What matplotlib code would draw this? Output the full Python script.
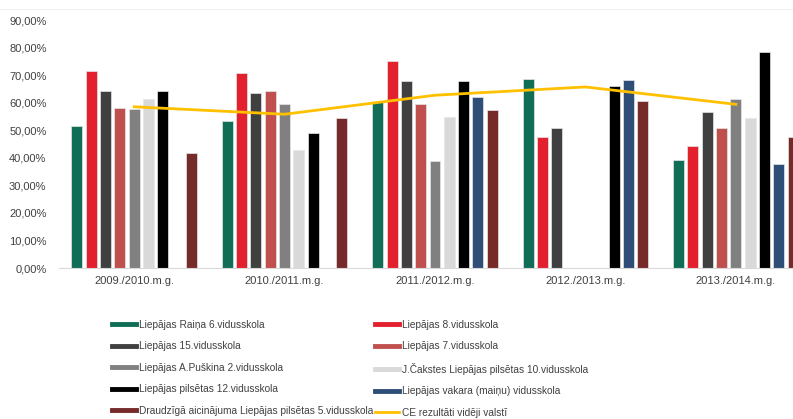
import numpy as np
import matplotlib
matplotlib.use('Agg')
import matplotlib.pyplot as plt
from matplotlib.lines import Line2D
from matplotlib.ticker import FuncFormatter

plt.rcParams['font.family'] = ['Liberation Sans', 'DejaVu Sans']

nan = np.nan
gadi = ['2009./2010.m.g.', '2010./2011.m.g.', '2011./2012.m.g.', '2012./2013.m.g.', '2013./2014.m.g.']

skolas = ['Liepājas Raiņa 6.vidusskola',
          'Liepājas 8.vidusskola',
          'Liepājas 15.vidusskola',
          'Liepājas 7.vidusskola',
          'Liepājas A.Puškina 2.vidusskola',
          'J.Čakstes Liepājas pilsētas 10.vidusskola',
          'Liepājas pilsētas 12.vidusskola',
          'Liepājas vakara (maiņu) vidusskola',
          'Draudzīgā aicinājuma Liepājas pilsētas 5.vidusskola']

raina6 = [51.6, 53.3, 60.3, 68.6, 39.2]
liep8 = [71.6, 70.6, 75.0, 47.7, 44.1]
liep15 = [64.2, 63.6, 68.0, 50.9, 56.6]
liep7 = [57.9, 64.4, 59.4, nan, 50.9]
puskina2 = [57.7, 59.6, 39.0, nan, 61.3]
cakstes10 = [61.2, 43.0, 54.9, nan, 54.6]
pils12 = [64.2, 49.1, 68.0, 66.1, 78.3]
vakara = [nan, nan, 62.1, 68.2, 37.9]
draudz5 = [41.6, 54.6, 57.2, 60.7, 47.5]

ce_videji = [58.5, 55.8, 62.7, 65.7, 59.4]

krasas = ['#0F6E55', '#E3202E', '#404040', '#C0504D', '#808080',
          '#D9D9D9', '#000000', '#2E4E78', '#762A2A']

dati = [raina6, liep8, liep15, liep7, puskina2, cakstes10, pils12, vakara, draudz5]

fig = plt.figure(figsize=(7.93, 4.19), dpi=100)
ax = fig.add_axes([59/793, (419-268)/419, 752/793, (268-20)/419])

x = np.arange(len(gadi))
solis = 0.0951
platums = 0.0731
for i, (vert, kr) in enumerate(zip(dati, krasas)):
    ax.bar(x + (i - 4) * solis, np.array(vert) / 100, width=platums, color=kr,
           edgecolor='#E6E6E6', linewidth=0.5, zorder=2)

ax.plot(x, np.array(ce_videji) / 100, color='#FFC000', linewidth=2.0, zorder=3)

ax.set_xlim(-0.5, len(gadi) - 0.5)
ax.set_ylim(0, 0.9)
ax.set_yticks(np.arange(0, 0.91, 0.1))
ax.yaxis.set_major_formatter(FuncFormatter(lambda v, p: ('%.2f%%' % (v * 100)).replace('.', ',')))
ax.set_xticks(x)
ax.set_xticklabels(gadi)
ax.tick_params(axis='both', length=0, labelsize=8, colors='#404040')
ax.tick_params(axis='y', pad=9)
ax.tick_params(axis='x', pad=6)
for s in ['top', 'right', 'left']:
    ax.spines[s].set_visible(False)
ax.spines['bottom'].set_color('#D9D9D9')
ax.spines['bottom'].set_linewidth(0.8)

# faint border at the top of the picture
fig.add_artist(Line2D([0, 1], [1 - 9/419, 1 - 9/419], color='#F2F2F2', linewidth=0.8))

roktura = [Line2D([], [], color=kr, linewidth=3.5) for kr in krasas]
roktura.append(Line2D([], [], color='#FFC000', linewidth=2.0))
nosaukumi = skolas + ['CE rezultāti vidēji valstī']
seciba = [0, 2, 4, 6, 8, 1, 3, 5, 7, 9]
fig.legend([roktura[i] for i in seciba], [nosaukumi[i] for i in seciba],
           ncol=2, loc='upper left', bbox_to_anchor=(112/793, 1 - 320/419),
           frameon=False, fontsize=7.25, labelcolor='#404040',
           handlelength=2.4, handletextpad=0.3, columnspacing=0.12,
           labelspacing=1.13, borderpad=0, borderaxespad=0)

fig.savefig('out.png', dpi=100)
